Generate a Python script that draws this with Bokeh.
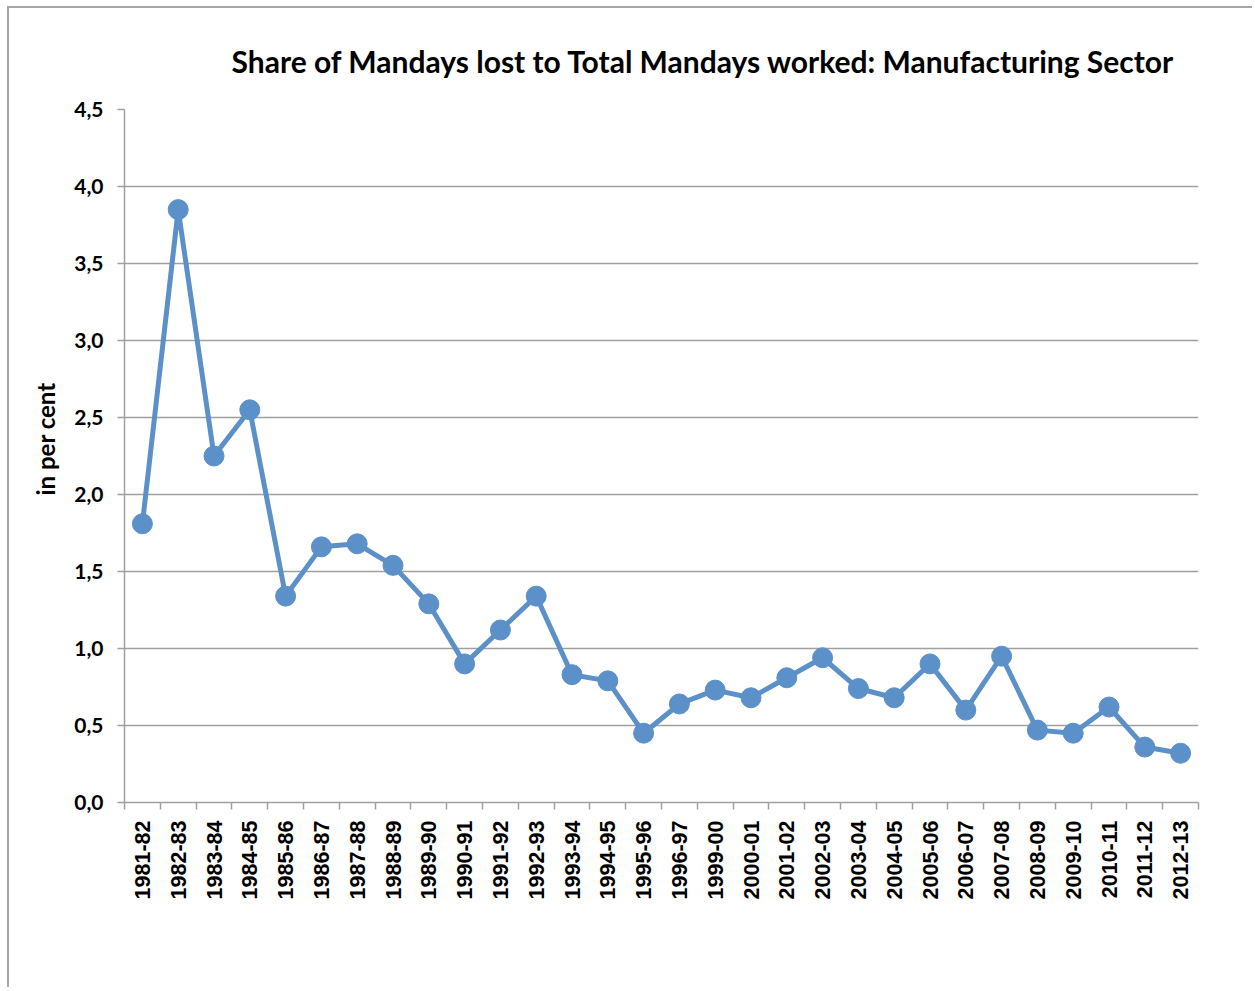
from bokeh.plotting import figure
from bokeh.models import Range1d, FixedTicker, CustomJSTickFormatter, Title
from bokeh.embed import file_html
from bokeh.resources import INLINE
import math

categories = ["1981-82", "1982-83", "1983-84", "1984-85", "1985-86", "1986-87",
              "1987-88", "1988-89", "1989-90", "1990-91", "1991-92", "1992-93",
              "1993-94", "1994-95", "1995-96", "1996-97", "1999-00", "2000-01",
              "2001-02", "2002-03", "2003-04", "2004-05", "2005-06", "2006-07",
              "2007-08", "2008-09", "2009-10", "2010-11", "2011-12", "2012-13"]
share = [1.81, 3.85, 2.25, 2.55, 1.34, 1.66, 1.68, 1.54, 1.29, 0.90, 1.12, 1.34,
         0.83, 0.79, 0.45, 0.64, 0.73, 0.68, 0.81, 0.94, 0.74, 0.68, 0.90, 0.60,
         0.95, 0.47, 0.45, 0.62, 0.36, 0.32]
y_ticks = [0.0, 0.5, 1.0, 1.5, 2.0, 2.5, 3.0, 3.5, 4.0, 4.5]

n = len(categories)
xs = list(range(n))

p = figure(width=1245, height=981, output_backend="svg", toolbar_location=None,
           x_range=Range1d(-0.5, n - 0.5), y_range=Range1d(0, 4.5),
           min_border_left=115, min_border_right=56, min_border_top=101,
           min_border_bottom=187,
           title="Share of Mandays lost to Total Mandays worked: Manufacturing Sector")
p.styles = {"border-left": "2px solid #a6a6a6", "border-top": "2px solid #a6a6a6",
            "margin-left": "7px", "margin-top": "6px"}

p.title.text_font = "Lato"
p.title.text_font_style = "bold"
p.title.text_font_size = "30px"
p.title.text_color = "#000000"
p.title.align = "left"
p.title.offset = 107
p.title.standoff = 61

p.outline_line_color = None
p.background_fill_color = "white"
p.border_fill_color = "white"

# grid
p.xgrid.grid_line_color = None
p.ygrid.grid_line_color = "#a0a0a0"
p.ygrid.grid_line_width = 1.5
p.yaxis.ticker = FixedTicker(ticks=y_ticks)
p.yaxis.formatter = CustomJSTickFormatter(code="return tick.toFixed(1).replace('.', ',');")

# x axis
p.xaxis.ticker = FixedTicker(ticks=xs, minor_ticks=[i - 0.5 for i in range(n + 1)])
p.xaxis.major_label_overrides = {i: c for i, c in enumerate(categories)}
p.xaxis.major_label_orientation = math.pi / 2
p.xaxis.major_tick_out = 0
p.xaxis.major_tick_in = 0
p.xaxis.minor_tick_out = 7
p.xaxis.minor_tick_in = 0
p.xaxis.minor_tick_line_color = "#a0a0a0"
p.xaxis.minor_tick_line_width = 1.5
p.xaxis.axis_line_color = "#a0a0a0"
p.xaxis.axis_line_width = 1.5
p.xaxis.major_label_text_font = "Liberation Sans"
p.xaxis.major_label_text_font_style = "bold"
p.xaxis.major_label_text_font_size = "21.5px"
p.xaxis.major_label_text_color = "#000000"
p.xaxis.major_label_standoff = 11

# y axis
p.yaxis.axis_line_color = "#a0a0a0"
p.yaxis.axis_line_width = 1.5
p.yaxis.major_tick_out = 7
p.yaxis.major_tick_in = 0
p.yaxis.minor_tick_out = 0
p.yaxis.minor_tick_in = 0
p.yaxis.major_tick_line_color = "#a0a0a0"
p.yaxis.major_tick_line_width = 1.5
p.yaxis.major_label_text_font = "Lato"
p.yaxis.major_label_text_font_style = "bold"
p.yaxis.major_label_text_font_size = "21px"
p.yaxis.major_label_text_color = "#000000"
p.yaxis.major_label_standoff = 14

# y axis title as a side title, slightly above the middle like the original
ytitle = Title(text="in per cent", align="left", offset=307, standoff=24,
               text_font="Lato", text_font_style="bold", text_font_size="24px",
               text_color="#000000")
p.add_layout(ytitle, "left")

color = "#5B90C8"
p.line(xs, share, line_color=color, line_width=5, line_join="round")
p.scatter(xs, share, size=20, fill_color=color, line_color=color)

open("out.html", "w").write(file_html(p, INLINE))
